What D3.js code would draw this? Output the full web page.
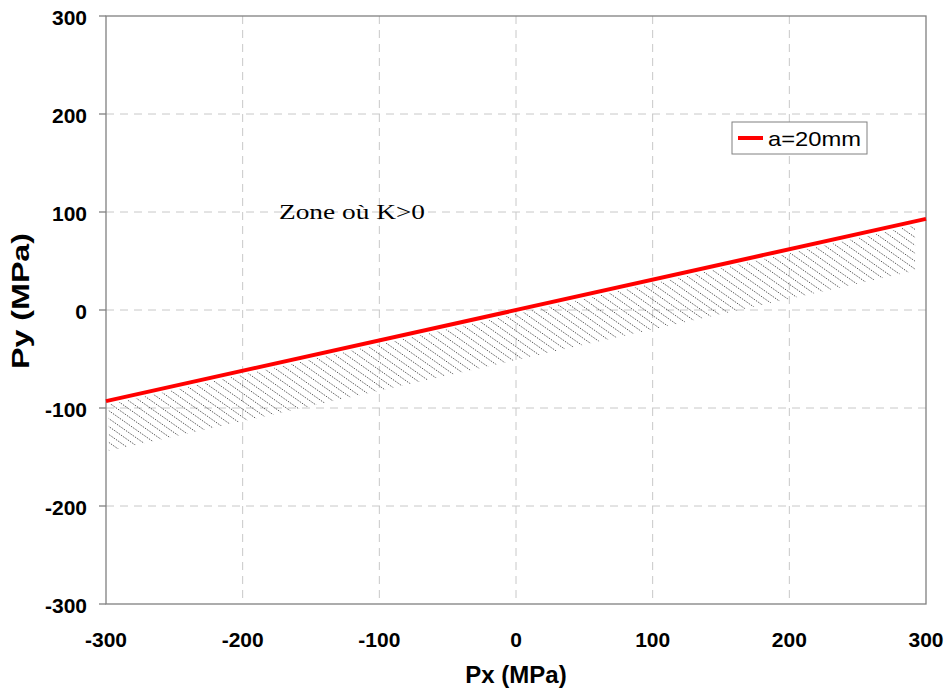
<!DOCTYPE html>
<html><head><meta charset="utf-8">
<script src="https://cdn.jsdelivr.net/npm/d3@7/dist/d3.min.js"></script>
<style>body{margin:0;background:#fff}svg{display:block}</style>
</head><body>
<svg id="chart" width="948" height="691"></svg>
<script>
// Data
const xTicks = [-300, -200, -100, 0, 100, 200, 300];
const yTicks = [-300, -200, -100, 0, 100, 200, 300];
const lineX = [-300, 300];
const lineY = [-93, 93];
const seriesName = "a=20mm";
const bandX = [-298, 292];
const bandUpper = [-96.5, 86.5];
const bandLower = [-144, 40];
const zoneLabel = "Zone où K>0";

const svg = d3.select("#chart");
const L = 106, R = 926, T = 16, B = 604;
const x = d3.scaleLinear().domain([-300, 300]).range([L, R]);
const y = d3.scaleLinear().domain([-300, 300]).range([B, T]);
const sans = "Liberation Sans, Arial, sans-serif";

// grid
const g = svg.append("g");
g.selectAll(".vg").data(xTicks.filter(d => d > -300 && d < 300)).enter().append("line")
  .attr("x1", d => x(d)).attr("x2", d => x(d)).attr("y1", T).attr("y2", B)
  .attr("stroke", "#c8c8c8").attr("stroke-dasharray", "8,6").attr("stroke-width", 1);
g.selectAll(".hg").data(yTicks.filter(d => d > -300 && d < 300)).enter().append("line")
  .attr("x1", L).attr("x2", R).attr("y1", d => y(d)).attr("y2", d => y(d))
  .attr("stroke", "#c8c8c8").attr("stroke-dasharray", "8,6").attr("stroke-width", 1);

// hatched band
const bandPts = [];
bandX.forEach((v, i) => bandPts.push([x(v), y(bandUpper[i])]));
for (let i = bandX.length - 1; i >= 0; i--) bandPts.push([x(bandX[i]), y(bandLower[i])]);
svg.append("clipPath").attr("id", "bandclip").append("path")
  .attr("d", d3.line()(bandPts) + "Z");
const hatch = svg.append("g").attr("clip-path", "url(#bandclip)");
const step = 8.6, slope = 0.7;
const lineAt = px => y(lineY[0] + (lineY[1] - lineY[0]) * (x.invert(px) - lineX[0]) / (lineX[1] - lineX[0]));
const hx = d3.range(L - 120, R + 20, step);
hatch.selectAll("line").data(hx).enter().append("line")
  .attr("x1", d => d - 10).attr("y1", d => lineAt(d) - 10 * slope)
  .attr("x2", d => d + 90).attr("y2", d => lineAt(d) + 90 * slope)
  .attr("stroke", "#333").attr("stroke-width", 1).attr("stroke-dasharray", "1,1.2");

// frame
svg.append("rect").attr("x", L).attr("y", T).attr("width", R - L).attr("height", B - T)
  .attr("fill", "none").attr("stroke", "#808080").attr("stroke-width", 1.3);

// y ticks
svg.selectAll(".yt").data(yTicks).enter().append("line")
  .attr("x1", L - 7).attr("x2", L).attr("y1", d => y(d)).attr("y2", d => y(d))
  .attr("stroke", "#808080").attr("stroke-width", 1.3);

// red line
svg.append("path").datum(lineX.map((v, i) => [v, lineY[i]]))
  .attr("d", d3.line().x(d => x(d[0])).y(d => y(d[1])))
  .attr("stroke", "#ff0000").attr("stroke-width", 4).attr("fill", "none");

// tick labels
svg.selectAll(".yl").data(yTicks).enter().append("text")
  .attr("x", 87).attr("y", d => y(d) + 1).attr("dy", "0.36em").attr("text-anchor", "end")
  .attr("font-family", sans).attr("font-weight", "bold").attr("font-size", 21)
  .text(d => d);
svg.selectAll(".xl").data(xTicks).enter().append("text")
  .attr("x", d => x(d)).attr("y", 639).attr("dy", "0.36em").attr("text-anchor", "middle")
  .attr("font-family", sans).attr("font-weight", "bold").attr("font-size", 21)
  .text(d => d);

// axis titles
svg.append("text").attr("x", 516).attr("y", 675).attr("dy", "0.35em").attr("text-anchor", "middle")
  .attr("font-family", sans).attr("font-weight", "bold").attr("font-size", 24)
  .text("Px (MPa)");
svg.append("text").attr("transform", "translate(21,301) rotate(-90)").attr("dy", "0.35em").attr("text-anchor", "middle")
  .attr("font-family", sans).attr("font-weight", "bold").attr("font-size", 24)
  .attr("textLength", 136).attr("lengthAdjust", "spacingAndGlyphs")
  .text("Py (MPa)");

// zone label
svg.append("text").attr("x", 279).attr("y", 219)
  .attr("font-family", "Liberation Serif, Times New Roman, serif").attr("font-size", 21)
  .attr("textLength", 146).attr("lengthAdjust", "spacingAndGlyphs")
  .text(zoneLabel);

// legend
svg.append("rect").attr("x", 732).attr("y", 122).attr("width", 135).attr("height", 32)
  .attr("fill", "#fff").attr("stroke", "#808080").attr("stroke-width", 1);
svg.append("line").attr("x1", 738).attr("x2", 763).attr("y1", 138).attr("y2", 138)
  .attr("stroke", "#ff0000").attr("stroke-width", 4);
svg.append("text").attr("x", 768).attr("y", 138).attr("dy", "0.36em")
  .attr("font-family", sans).attr("font-size", 21)
  .attr("textLength", 93).attr("lengthAdjust", "spacingAndGlyphs")
  .text(seriesName);
</script>
</body></html>
